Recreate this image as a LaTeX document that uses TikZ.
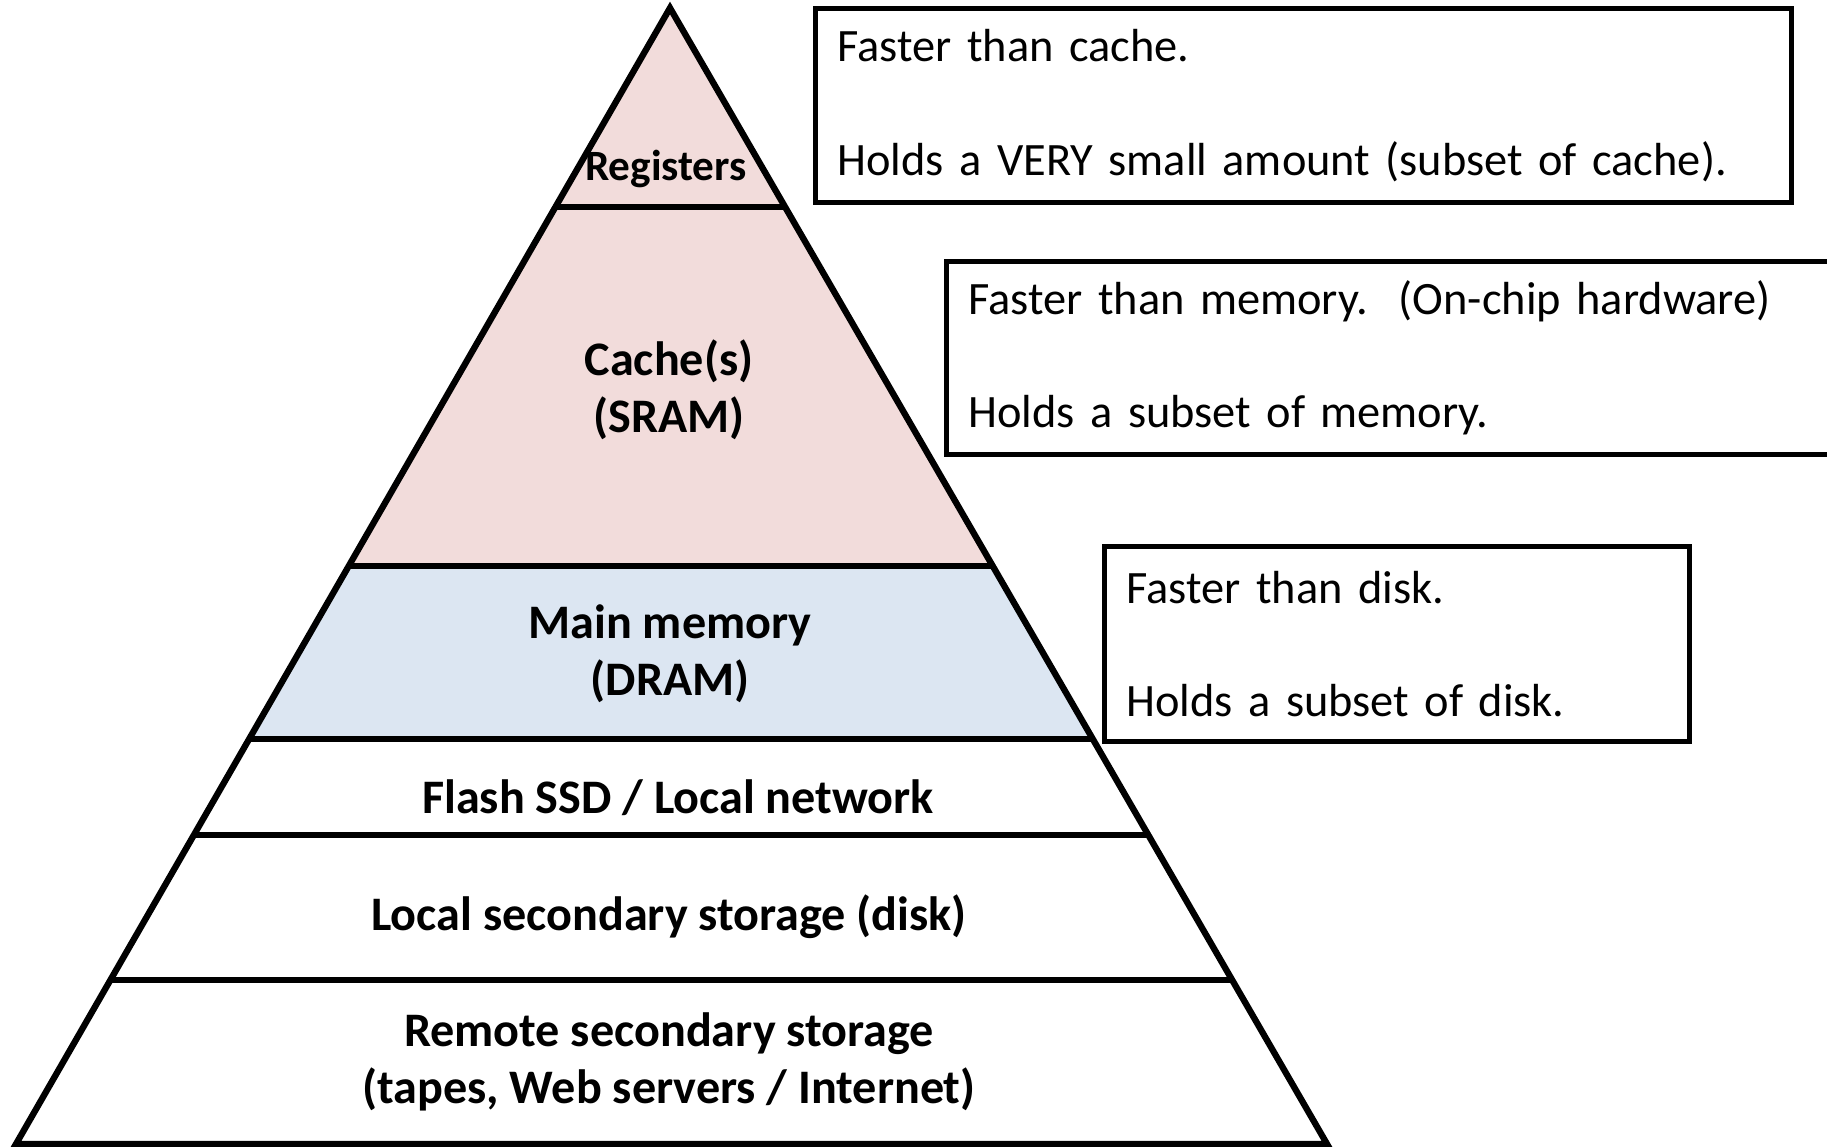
\documentclass[tikz,border=0pt]{standalone}
\usepackage{fontspec}
\setmainfont{Carlito}
\usetikzlibrary{positioning,calc}
\definecolor{sramfill}{RGB}{242,220,219}
\definecolor{dramfill}{RGB}{220,230,242}

\begin{document}
\begin{tikzpicture}[
	level/.style={font=\bfseries\fontsize{13.7}{16.3}\selectfont, align=center},
	infobox/.style={draw, line width=1.4pt, anchor=north west, align=left,
		inner xsep=0.22cm, font=\fontsize{13.2}{16}\selectfont},
	wall/.style={line width=1.8pt}]
	\useasboundingbox (0,0) rectangle (18.27,-11.47);
	% pyramid corners
	\coordinate (apex) at (6.70,-0.08);
	\coordinate (bl) at (0.16,-11.44);
	\coordinate (br) at (13.27,-11.44);
	% level lines
	\foreach \t [count=\i] in {0.1752, 0.4912, 0.6435, 0.7280, 0.8556}{
		\coordinate (l\i) at ($(apex)!\t!(bl)$);
		\coordinate (r\i) at ($(apex)!\t!(br)$);
	}
	\fill[sramfill] (apex) -- (l2) -- (r2) -- cycle;
	\fill[dramfill] (l2) -- (l3) -- (r3) -- (r2) -- cycle;
	\foreach \i in {1,...,5}
	\draw[wall] (l\i) -- (r\i);
	\draw[wall] (apex) -- (bl) -- (br) -- cycle;
	
	\node[level, font=\bfseries\fontsize{12.3}{15}\selectfont] (regs) at (6.66,-1.69) {Registers};
	\node[level] (sram) at (6.69,-3.90) {Cache(s)\\(SRAM)};
	\node[level] (dram) at (6.70,-6.54) {Main memory\\(DRAM)};
	\node[level] (flash) at (6.78,-7.98) {Flash SSD / Local network};
	\node[level] (disk) at (6.69,-9.17) {Local secondary storage (disk)};
	\node[level] (remote) at (6.69,-10.62) {Remote secondary storage\\(tapes, Web servers / Internet)};
	
	% side notes
	\node[infobox, text width=9.32cm, minimum height=1.94cm] (regnote) at (8.13,-0.06)
	{Faster than cache.\\[16.3pt]Holds a VERY small amount (subset of cache).};
	\node[infobox, text width=9.8cm, minimum height=1.93cm] (sramnote) at (9.44,-2.59)
	{Faster than memory.~~(On-chip hardware)\\[16.3pt]Holds a subset of memory.};
	\node[infobox, text width=5.41cm, minimum height=1.95cm] (dramnote) at (11.02,-5.44)
	{Faster than disk.\\[16.3pt]Holds a subset of disk.};
\end{tikzpicture}
\end{document}
